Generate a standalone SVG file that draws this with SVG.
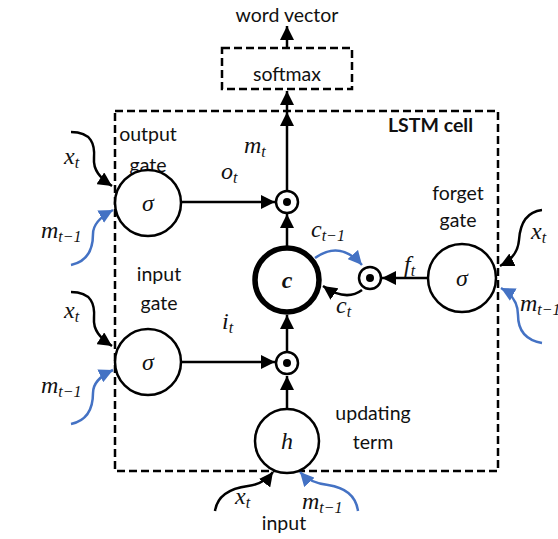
<svg xmlns="http://www.w3.org/2000/svg" width="558" height="539" viewBox="0 0 558 539">
<style>
.lbl{font-family:Lato,"Liberation Sans",sans-serif;font-size:19.5px;fill:#111}
.math{font-family:"Liberation Serif","DejaVu Serif",serif;font-style:italic;font-size:24px;fill:#111}
.sub{font-size:16px}
.dash{fill:none;stroke:#000;stroke-width:2.5;stroke-dasharray:8,4}
.node{fill:#fff;stroke:#000;stroke-width:2.5}
.ln{fill:none;stroke:#000;stroke-width:2.5}
.bl{fill:none;stroke:#4472C4;stroke-width:2.5}
</style>
<defs>
<marker id="ah" markerUnits="userSpaceOnUse" markerWidth="15" markerHeight="14" refX="14" refY="7" orient="auto"><path d="M0,0 L14,7 L0,14 z" fill="#000"/></marker>
<marker id="ahb" markerUnits="userSpaceOnUse" markerWidth="15" markerHeight="14" refX="14" refY="7" orient="auto"><path d="M0,0 L14,7 L0,14 z" fill="#4472C4"/></marker>
</defs>

<g id="title"><text class="lbl" x="287" y="22" text-anchor="middle">word vector</text></g>
<g id="softmax"><rect class="dash" x="222" y="48" width="130" height="41"/><text class="lbl" x="287" y="81" text-anchor="middle">softmax</text></g>
<g id="lstm-cell"><rect class="dash" x="115" y="111" width="383" height="360"/><text class="lbl" x="473" y="132" text-anchor="end" font-weight="bold" font-size="18.5">LSTM cell</text></g>

<g id="labels-text">
<text class="lbl" x="148" y="141" text-anchor="middle">output</text>
<text class="lbl" x="148" y="172" text-anchor="middle">gate</text>
<text class="lbl" x="159" y="281" text-anchor="middle">input</text>
<text class="lbl" x="159" y="310" text-anchor="middle">gate</text>
<text class="lbl" x="458" y="200" text-anchor="middle">forget</text>
<text class="lbl" x="458" y="227" text-anchor="middle">gate</text>
<text class="lbl" x="373" y="420" text-anchor="middle">updating</text>
<text class="lbl" x="373" y="449" text-anchor="middle">term</text>
<text class="lbl" x="284" y="530" text-anchor="middle">input</text>
</g>

<g id="connectors">
<line class="ln" x1="287" y1="48" x2="287" y2="26" marker-end="url(#ah)"/>
<line class="ln" x1="287" y1="112" x2="287" y2="91" marker-end="url(#ah)"/>
<line class="ln" x1="287" y1="191" x2="287" y2="112" marker-end="url(#ah)"/>
<line class="ln" x1="182" y1="202" x2="275" y2="202" marker-end="url(#ah)"/>
<line class="ln" x1="287" y1="247" x2="287" y2="214" marker-end="url(#ah)"/>
<line class="ln" x1="182" y1="362" x2="275" y2="362" marker-end="url(#ah)"/>
<line class="ln" x1="287" y1="351" x2="287" y2="315" marker-end="url(#ah)"/>
<line class="ln" x1="287" y1="409" x2="287" y2="376" marker-end="url(#ah)"/>
<line class="ln" x1="428" y1="278" x2="382" y2="278" marker-end="url(#ah)"/>
<path class="bl" d="M315,258 Q340,240 362,265" marker-end="url(#ahb)"/>
<path class="ln" d="M362,290 Q346,302 323,286" marker-end="url(#ah)"/>
<path class="ln" d="M71,132 C92,132 95,145 94,158 C93,170 100,178 112,186" marker-end="url(#ah)"/>
<path class="bl" d="M71,265 C90,261 93,246 93,234 C93,224 100,217 113,210" marker-end="url(#ahb)"/>
<path class="ln" d="M71,292 C92,292 95,305 94,318 C93,330 100,338 112,346" marker-end="url(#ah)"/>
<path class="bl" d="M71,424 C90,420 93,405 93,393 C93,383 100,376 113,370" marker-end="url(#ahb)"/>
<path class="ln" d="M542,210 C525,212 520,225 519,240 C518,252 512,260 500,266" marker-end="url(#ah)"/>
<path class="bl" d="M542,343 C525,340 518,330 518,315 C518,302 512,294 501,288" marker-end="url(#ahb)"/>
<path class="ln" d="M215,511 Q218,490 248,486 Q264,484 273,472" marker-end="url(#ah)"/>
<path class="bl" d="M358,511 Q355,489 328,485 Q310,483 300,472" marker-end="url(#ahb)"/>
</g>

<g id="output-gate"><circle class="node" cx="148" cy="203" r="33"/><text class="math" x="148" y="211" text-anchor="middle" font-size="26">σ</text></g>
<g id="input-gate"><circle class="node" cx="148" cy="362" r="33"/><text class="math" x="148" y="370" text-anchor="middle" font-size="26">σ</text></g>
<g id="forget-gate"><circle class="node" cx="462" cy="278" r="34"/><text class="math" x="462" y="286" text-anchor="middle" font-size="26">σ</text></g>
<g id="cell"><circle cx="287" cy="280" r="32" fill="#fff" stroke="#000" stroke-width="5.5"/><text class="math" x="287" y="288" text-anchor="middle" font-weight="bold" font-size="26">c</text></g>
<g id="update"><circle class="node" cx="287" cy="441" r="32"/><text class="math" x="287" y="449" text-anchor="middle" font-size="26">h</text></g>
<g id="output-mult"><circle class="node" cx="287" cy="202" r="11"/><circle cx="287" cy="202" r="4" fill="#000"/></g>
<g id="input-mult"><circle class="node" cx="287" cy="363" r="11"/><circle cx="287" cy="363" r="4" fill="#000"/></g>
<g id="forget-mult"><circle class="node" cx="370" cy="278" r="11"/><circle cx="370" cy="278" r="4" fill="#000"/></g>

<g id="math-labels">
<text class="math" x="244" y="153">m<tspan class="sub" dy="4">t</tspan></text>
<text class="math" x="221" y="179">o<tspan class="sub" dy="4">t</tspan></text>
<text class="math" x="311" y="237">c<tspan class="sub" dy="4">t−1</tspan></text>
<text class="math" x="336" y="313">c<tspan class="sub" dy="4">t</tspan></text>
<text class="math" x="404" y="272">f<tspan class="sub" dy="4">t</tspan></text>
<text class="math" x="222" y="329">i<tspan class="sub" dy="4">t</tspan></text>
<text class="math" x="64" y="164">x<tspan class="sub" dy="4">t</tspan></text>
<text class="math" x="41" y="238">m<tspan class="sub" dy="4">t−1</tspan></text>
<text class="math" x="64" y="318">x<tspan class="sub" dy="4">t</tspan></text>
<text class="math" x="41" y="393">m<tspan class="sub" dy="4">t−1</tspan></text>
<text class="math" x="531" y="239">x<tspan class="sub" dy="4">t</tspan></text>
<text class="math" x="520" y="311">m<tspan class="sub" dy="4">t−1</tspan></text>
<text class="math" x="235" y="504">x<tspan class="sub" dy="4">t</tspan></text>
<text class="math" x="302" y="509">m<tspan class="sub" dy="4">t−1</tspan></text>
</g>
</svg>
